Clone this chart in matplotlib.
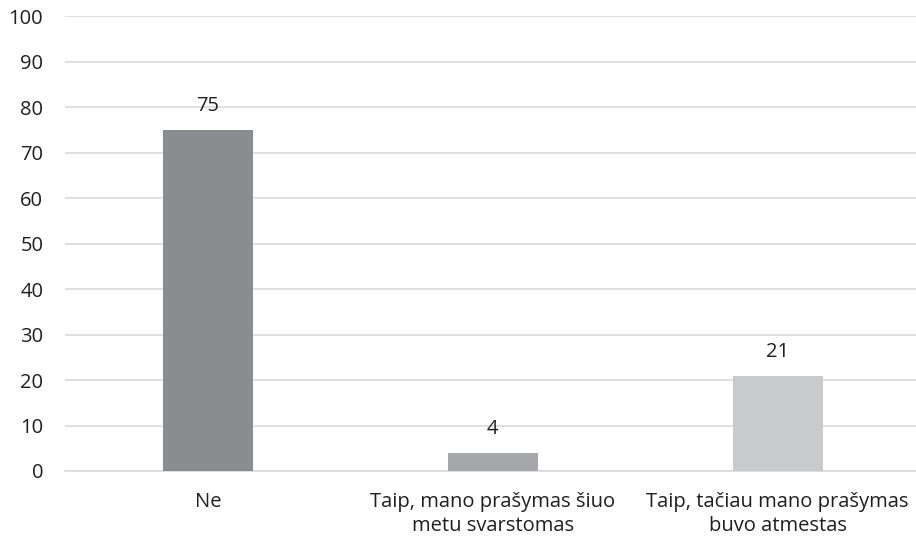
import matplotlib.pyplot as plt

# Chart data
categories = ["Ne", "Taip, mano prašymas šiuo\nmetu svarstomas", "Taip, tačiau mano prašymas\nbuvo atmestas"]
values = [75, 4, 21]
bar_colors = ["#8b8c90", "#a6a7ab", "#c9cacc"]
y_ticks = list(range(0, 101, 10))

plt.rcParams["font.family"] = ["Open Sans", "DejaVu Sans"]

fig = plt.figure(figsize=(9.16, 5.42), dpi=100)
ax = fig.add_axes([0.0715, 0.131, 0.933, 0.839])

x = range(len(categories))
bars = ax.bar(x, values, width=0.316, color=bar_colors, zorder=3)

for b, v in zip(bars, values):
    ax.text(b.get_x() + b.get_width() / 2, v + 3.0, str(v), ha="center", va="bottom",
            fontsize=14.5, color="#1f1f1f")

ax.set_ylim(0, 100)
ax.set_xlim(-0.5, len(categories) - 0.5)
ax.set_yticks(y_ticks)
ax.set_xticks(list(x))
ax.set_xticklabels(categories, fontsize=14.5, color="#1f1f1f", linespacing=1.3)
ax.tick_params(axis="y", length=0, pad=16, labelsize=14.5, labelcolor="#1f1f1f")
ax.tick_params(axis="x", length=0, pad=15)
ax.grid(axis="y", color="#d9d9d9", linewidth=1.2, zorder=0)
for s in ["top", "right", "left"]:
    ax.spines[s].set_visible(False)
ax.spines["bottom"].set_color("#d9d9d9")
ax.spines["bottom"].set_linewidth(1.2)

fig.savefig("out.png", dpi=100)
